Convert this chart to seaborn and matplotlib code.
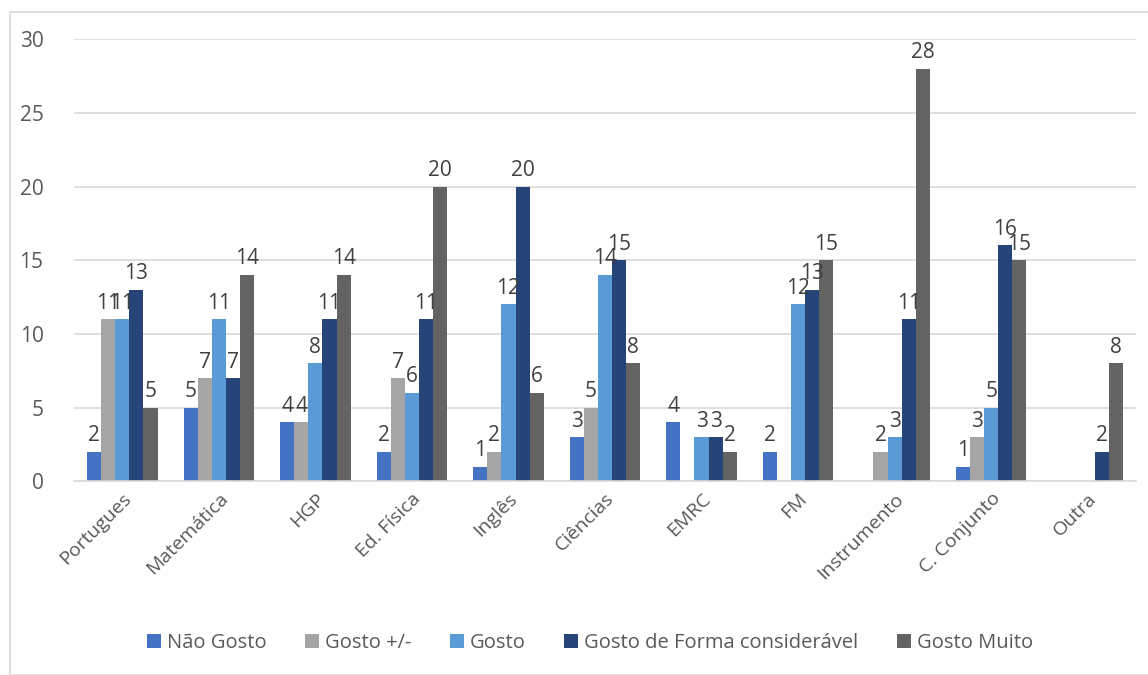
import numpy as np
import pandas as pd
import matplotlib.pyplot as plt
import seaborn as sns
from matplotlib.patches import Rectangle

sns.set_theme(style="white")
plt.rcParams['font.family'] = ['Open Sans', 'DejaVu Sans']

disciplinas = ['Portugues', 'Matemática', 'HGP', 'Ed. Física', 'Inglês', 'Ciências',
               'EMRC', 'FM', 'Instrumento', 'C. Conjunto', 'Outra']
series = ['Não Gosto', 'Gosto +/-', 'Gosto', 'Gosto de Forma considerável', 'Gosto Muito']
nao_gosto = [2, 5, 4, 2, 1, 3, 4, 2, np.nan, 1, np.nan]
gosto_mm = [11, 7, 4, 7, 2, 5, np.nan, np.nan, 2, 3, np.nan]
gosto = [11, 11, 8, 6, 12, 14, 3, 12, 3, 5, np.nan]
gosto_consid = [13, 7, 11, 11, 20, 15, 3, 13, 11, 16, 2]
gosto_muito = [5, 14, 14, 20, 6, 8, 2, 15, 28, 15, 8]
cores = ['#4472C4', '#A5A5A5', '#5B9BD5', '#264478', '#636363']

df = pd.DataFrame({'Disciplina': disciplinas * 5,
                   'Serie': [s for s in series for _ in disciplinas],
                   'Valor': nao_gosto + gosto_mm + gosto + gosto_consid + gosto_muito})

fig = plt.figure(figsize=(11.48, 6.75), dpi=100)
ax = fig.add_axes([0.0645, 0.287, 0.925, 0.655])
sns.barplot(data=df, x='Disciplina', y='Valor', hue='Serie', hue_order=series,
            palette=cores, width=0.73, ax=ax, saturation=1, legend=True,
            linewidth=0)

for cont in ax.containers:
    labs = ['' if np.isnan(v) else f'{v:.0f}' for v in cont.datavalues]
    ax.bar_label(cont, labels=labs, padding=4, fontsize=15, color='#404040')

ax.set_ylim(0, 30)
ax.set_yticks(range(0, 31, 5))
ax.yaxis.grid(True, color='#D9D9D9', linewidth=1.2)
ax.set_axisbelow(True)
for s in ['top', 'right', 'left']:
    ax.spines[s].set_visible(False)
ax.spines['bottom'].set_color('#D9D9D9')
ax.spines['bottom'].set_linewidth(1.2)
ax.set_xlabel('')
ax.set_ylabel('')
ax.tick_params(axis='y', labelsize=15, labelcolor='#595959', length=0, pad=22)
ax.tick_params(axis='x', labelsize=14, labelcolor='#595959', length=0, pad=6)
plt.setp(ax.get_xticklabels(), rotation=45, ha='right', rotation_mode='anchor')

ax.legend(loc='center', bbox_to_anchor=(0.486, -0.365), ncol=5, frameon=False,
          fontsize=14.5, handlelength=0.7, handleheight=0.7, columnspacing=1.9,
          handletextpad=0.3, labelcolor='#595959')

fig.patches.append(Rectangle((10 / 1148, 0), 1.2, 1 - 12 / 675, transform=fig.transFigure,
                             fill=False, edgecolor='#D9D9D9', linewidth=1.2))

fig.savefig('out.png', dpi=100)
